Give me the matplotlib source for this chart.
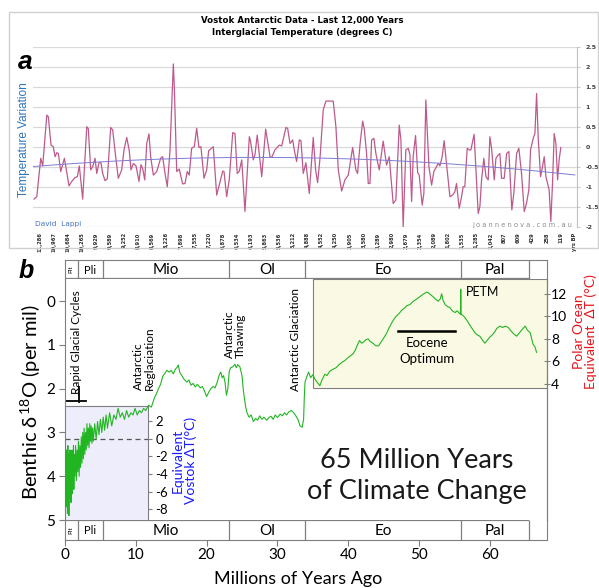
import numpy as np
import matplotlib
matplotlib.use('Agg')
import matplotlib.pyplot as plt
from matplotlib.patches import Rectangle

plt.rcParams['font.family'] = ['Lato', 'DejaVu Sans']
plt.rcParams['mathtext.fontset'] = 'custom'
plt.rcParams['mathtext.rm'] = 'Lato'
plt.rcParams['mathtext.it'] = 'Lato'
plt.rcParams['axes.unicode_minus'] = False

# ---------------- panel a : Vostok, last 12,000 years ----------------
age_labels = ['11,286', '10,967', '10,684', '10,265', '9,929', '9,589', '9,252', '8,910',
              '8,569', '8,226', '7,898', '7,555', '7,220', '6,878', '6,534', '6,193',
              '5,863', '5,536', '5,212', '4,888', '4,552', '4,250', '3,905', '3,580',
              '3,289', '2,980', '2,679', '2,354', '2,089', '1,802', '1,535', '1,285',
              '1,042', '807', '609', '429', '258', '119', 'yrs BP']

# sample position on the category axis (1 unit = one labelled sample)
vostok_pos = [-0.43, -0.23, 0.05, 0.19, 0.48, 0.59, 0.78, 0.94, 1.07, 1.19, 1.30, 1.47,
              1.73, 2.06, 2.25, 2.49, 2.65, 2.79, 3.03, 3.32, 3.43, 3.60, 3.74, 3.91,
              4.03, 4.19, 4.33, 4.45, 4.62, 4.78, 5.02, 5.16, 5.40, 5.56, 5.80, 5.97,
              6.16, 6.34, 6.46, 6.63, 6.82, 7.03, 7.17, 7.29, 7.44, 7.58, 7.74, 7.86,
              8.05, 8.29, 8.57, 8.71, 8.88, 9.04, 9.23, 9.47, 9.54, 9.71, 9.89, 10.13,
              10.30, 10.46, 10.60, 10.77, 10.96, 11.13, 11.29, 11.43, 11.65, 11.84, 11.98, 12.31,
              12.55, 12.98, 13.07, 13.26, 13.44, 13.69, 13.85, 14.01, 14.15, 14.33, 14.56, 14.87,
              14.96, 15.15, 15.27, 15.43, 15.75, 16.03, 16.34, 16.46, 16.69, 17.00, 17.17, 17.47,
              17.59, 17.76, 17.95, 18.06, 18.23, 18.42, 18.54, 18.70, 18.89, 19.13, 19.41, 19.58,
              19.72, 19.89, 20.12, 20.31, 20.83, 21.02, 21.19, 21.43, 21.66, 21.90, 22.21, 22.44,
              22.56, 22.73, 22.92, 23.03, 23.20, 23.32, 23.44, 23.56, 23.72, 23.86, 24.10, 24.38,
              24.62, 24.81, 25.09, 25.28, 25.52, 25.64, 25.80, 25.99, 26.16, 26.28, 26.40, 26.51,
              26.68, 26.83, 26.94, 27.15, 27.27, 27.41, 27.63, 27.82, 27.98, 28.29, 28.41, 28.57,
              28.71, 28.84, 29.12, 29.31, 29.47, 29.59, 29.78, 29.95, 30.06, 30.18, 30.35, 30.49,
              30.61, 30.84, 31.13, 31.25, 31.37, 31.53, 31.68, 31.84, 31.96, 32.08, 32.27, 32.39,
              32.55, 32.67, 32.79, 32.98, 33.15, 33.31, 33.52, 33.66, 33.86, 34.02, 34.21, 34.40,
              34.56, 34.73, 34.85, 35.04, 35.16, 35.28, 35.39, 35.56, 35.70, 35.82, 35.94, 36.17,
              36.29, 36.41, 36.53, 36.65, 36.77, 36.88, 37.00]
vostok_temp = [-1.31, -1.25, -0.29, -0.48, 0.79, 0.75, 0.04, 0.00, -0.25, -0.15, -0.17, -0.62,
               -0.29, -0.98, -0.87, -0.77, -0.75, -0.48, -1.31, 0.50, 0.45, -0.58, -0.50, -0.29,
               -0.67, -0.40, -0.40, -0.67, -0.85, -0.80, 0.48, 0.42, -0.33, -0.79, -0.58, -0.07,
               0.23, -0.10, -0.58, -0.42, -0.48, -0.87, -0.45, -0.54, -0.83, 0.08, 0.32, -0.25,
               -0.71, -0.62, -0.29, -0.25, -0.67, -1.00, -0.12, 2.07, 1.50, -0.62, -0.56, -0.93,
               -0.92, -0.62, -0.71, -0.04, 0.00, 0.46, -0.02, 0.00, -0.79, -0.58, -0.10, 0.00,
               -1.21, -0.61, -0.62, -1.25, -0.83, 0.35, 0.33, -0.67, -0.62, -0.33, -1.62, 0.25,
               0.13, -0.33, -0.20, 0.29, -0.75, 0.44, -0.25, -0.27, -0.08, 0.04, 0.02, 0.48,
               0.46, 0.08, 0.17, -0.08, -0.37, 0.17, 0.15, -0.67, -0.40, -1.17, 0.23, -0.58,
               -0.90, -0.29, 0.92, 1.14, 1.14, 0.50, -0.58, -1.11, -0.83, -0.71, -0.02, -0.58,
               -0.67, 0.04, 0.64, 0.46, -0.17, -0.92, -0.92, 0.17, 0.21, -0.17, -0.58, 0.14,
               -0.46, -0.25, -1.42, -1.33, 0.54, 0.17, -2.00, -0.08, -0.04, -0.20, -1.37, -0.25,
               0.28, -0.65, -0.71, -1.46, -1.17, 1.17, -0.50, -0.96, -0.62, -0.42, -0.48, -0.25,
               0.15, -0.29, -1.25, -1.21, -1.13, -0.92, -1.54, -1.25, -1.00, -1.00, -0.04, -0.08,
               -0.08, 0.31, -1.67, -1.50, -0.83, -0.29, -0.75, -0.83, 0.25, -0.04, -0.83, -0.29,
               -0.21, -0.17, -0.79, -0.79, -0.17, -0.12, -1.58, -1.17, -0.17, -0.04, -0.67, -1.62,
               -1.42, -1.08, -0.08, 0.21, 0.33, 1.33, 0.25, -0.75, -0.50, -0.25, -0.75, -1.08,
               -1.87, -0.92, 0.33, 0.08, -0.83, -0.33, -0.02]

# readings of the blue polynomial trend line
trend_pos = [-0.5, 7.8, 18.5, 29.1, 38.0]
trend_val = [-0.50, -0.31, -0.29, -0.42, -0.71]

# ---------------- panel b : 65 Myr benthic d18O ----------------
d18o_age = [0.00, 0.05, 0.10, 0.15, 0.20, 0.25, 0.30, 0.35, 0.40, 0.45, 0.50, 0.55,
            0.60, 0.65, 0.70, 0.75, 0.80, 0.85, 0.90, 0.95, 1.00, 1.05, 1.10, 1.15,
            1.20, 1.25, 1.30, 1.40, 1.50, 1.60, 1.70, 1.80, 1.90, 2.00, 2.10, 2.20,
            2.30, 2.40, 2.50, 2.60, 2.70, 2.80, 2.90, 3.00, 3.10, 3.20, 3.30, 3.40,
            3.50, 3.60, 3.70, 3.80, 3.90, 4.00, 4.20, 4.40, 4.60, 4.80, 5.00, 5.20,
            5.40, 5.60, 5.80, 6.00, 6.30, 6.60, 6.90, 7.20, 7.50, 7.80, 8.10, 8.40,
            8.70, 9.00, 9.30, 9.60, 9.90, 10.20, 10.50, 10.80, 11.10, 11.40, 11.80, 12.20,
            12.60, 12.90, 13.20, 13.50, 13.80, 14.10, 14.40, 14.70, 15.00, 15.30, 15.60, 15.90,
            16.00, 16.20, 16.50, 16.80, 17.20, 17.50, 17.80, 18.10, 18.40, 18.70, 19.10, 19.40,
            19.70, 20.00, 20.30, 20.60, 20.90, 21.20, 21.50, 21.80, 22.00, 22.20, 22.40, 22.60,
            22.80, 23.00, 23.20, 23.40, 23.70, 24.00, 24.20, 24.40, 24.70, 25.00, 25.20, 25.50,
            25.70, 26.00, 26.30, 26.60, 26.90, 27.20, 27.50, 27.80, 28.10, 28.50, 28.80, 29.10,
            29.40, 29.70, 30.00, 30.40, 30.70, 31.00, 31.30, 31.60, 32.00, 32.30, 32.60, 32.90,
            33.20, 33.50, 33.70, 33.80, 33.90, 34.10, 34.40, 34.70, 35.00, 35.30, 35.60, 36.00,
            36.30, 36.70, 37.00, 37.40, 37.90, 38.30, 38.70, 39.10, 39.50, 39.90, 40.30, 40.70,
            41.00, 41.30, 41.60, 41.90, 42.20, 42.50, 42.80, 43.10, 43.50, 43.90, 44.30, 44.70,
            45.10, 45.40, 45.80, 46.20, 46.50, 46.80, 47.20, 47.60, 48.00, 48.30, 48.70, 49.20,
            49.60, 50.10, 50.50, 50.80, 51.10, 51.40, 51.70, 52.00, 52.30, 52.70, 53.00, 53.20,
            53.40, 53.70, 54.00, 54.40, 54.70, 55.10, 55.40, 55.60, 55.85, 55.90, 55.95, 56.30,
            56.70, 57.00, 57.40, 57.90, 58.30, 58.60, 59.00, 59.30, 59.70, 60.00, 60.30, 60.70,
            61.00, 61.40, 61.80, 62.20, 62.60, 63.00, 63.40, 63.80, 64.20, 64.60, 65.00, 65.30,
            65.70, 66.10, 66.40, 66.60]
d18o = [3.30, 4.50, 3.50, 4.70, 3.40, 4.60, 3.60, 4.85, 3.30, 4.40, 3.50, 4.90,
        3.70, 4.50, 3.40, 4.30, 3.50, 4.60, 3.60, 4.20, 3.40, 4.40, 3.50, 4.10,
        3.30, 4.30, 3.50, 4.00, 3.30, 4.10, 3.40, 3.90, 3.20, 4.00, 3.30, 3.80,
        3.10, 3.70, 3.00, 3.60, 2.90, 3.50, 3.00, 3.40, 2.80, 3.30, 2.90, 3.35,
        2.80, 3.20, 2.85, 3.25, 2.90, 3.20, 2.80, 3.15, 2.75, 3.05, 2.70, 3.00,
        2.65, 2.95, 2.60, 2.90, 2.55, 2.85, 2.60, 2.70, 2.45, 2.65, 2.55, 2.70,
        2.50, 2.65, 2.55, 2.60, 2.45, 2.60, 2.50, 2.55, 2.45, 2.50, 2.38, 2.42,
        2.22, 2.12, 2.00, 1.90, 1.72, 1.65, 1.58, 1.62, 1.58, 1.66, 1.55, 1.50,
        1.46, 1.62, 1.70, 1.78, 1.85, 1.80, 1.92, 1.88, 1.96, 1.90, 1.98, 1.95,
        2.05, 2.18, 2.08, 2.00, 1.95, 1.98, 1.85, 1.68, 1.62, 1.75, 1.70, 1.85,
        2.15, 2.00, 1.60, 1.52, 1.50, 1.44, 1.52, 1.45, 1.50, 1.70, 2.05, 2.40,
        2.55, 2.65, 2.60, 2.75, 2.68, 2.72, 2.62, 2.70, 2.65, 2.72, 2.66, 2.63,
        2.70, 2.60, 2.66, 2.58, 2.62, 2.55, 2.60, 2.53, 2.50, 2.55, 2.62, 2.70,
        2.85, 2.88, 2.70, 2.20, 1.85, 1.75, 1.62, 1.75, 1.68, 1.78, 1.85, 1.93,
        1.80, 1.67, 1.70, 1.60, 1.55, 1.52, 1.45, 1.40, 1.36, 1.30, 1.25, 1.20,
        1.12, 1.00, 0.90, 0.96, 0.93, 0.88, 0.86, 0.92, 0.96, 1.02, 1.02, 0.92,
        0.82, 0.74, 0.60, 0.48, 0.40, 0.34, 0.28, 0.20, 0.15, 0.10, 0.08, 0.00,
        -0.04, -0.10, -0.15, -0.18, -0.21, -0.18, -0.14, -0.10, -0.05, 0.00, -0.05, -0.17,
        -0.02, 0.08, 0.12, 0.15, 0.22, 0.26, 0.22, 0.26, 0.30, -0.27, 0.30, 0.34,
        0.42, 0.50, 0.60, 0.72, 0.78, 0.80, 0.90, 0.96, 0.88, 0.82, 0.78, 0.70,
        0.62, 0.57, 0.60, 0.57, 0.60, 0.68, 0.75, 0.80, 0.72, 0.64, 0.57, 0.66,
        0.72, 0.98, 1.05, 1.17]

epoch_names = ['Plt', 'Pli', 'Mio', 'Ol', 'Eo', 'Pal']
epoch_edges = [0, 1.8, 5.4, 23.1, 33.9, 55.9, 65.6]

# calibration of the temperature scales against d18O
polar_d18o, polar_temp = [-0.17, 1.89], [12, 4]
vostok_d18o, vostok_temp_ref = [3.14, 4.76], [0, -8]


def d_to_polar(d):
    s = (polar_temp[1] - polar_temp[0]) / (polar_d18o[1] - polar_d18o[0])
    return polar_temp[0] + (np.asarray(d) - polar_d18o[0]) * s


def polar_to_d(t):
    s = (polar_temp[1] - polar_temp[0]) / (polar_d18o[1] - polar_d18o[0])
    return polar_d18o[0] + (np.asarray(t) - polar_temp[0]) / s


def d_to_vostok(d):
    s = (vostok_temp_ref[1] - vostok_temp_ref[0]) / (vostok_d18o[1] - vostok_d18o[0])
    return vostok_temp_ref[0] + (d - vostok_d18o[0]) * s


W, H = 599, 588
fig = plt.figure(figsize=(W / 100, H / 100), dpi=100)


def fx(x):
    return x / W


def fy(y):
    return 1 - y / H


# ======================= panel a =======================
fig.patches.append(Rectangle((fx(9), fy(248)), fx(598) - fx(9), fy(12) - fy(248),
                             transform=fig.transFigure, fill=False,
                             edgecolor='#d0d0d0', lw=1))

ax_a = fig.add_axes([fx(33), fy(226.7), fx(577) - fx(33), fy(46.7) - fy(226.7)])
ax_a.set_xlim(-0.5, 38.15)
ax_a.set_ylim(-2, 2.5)
yt = np.arange(-2, 2.51, 0.5)
ax_a.set_yticks(yt)
ax_a.set_yticklabels(['%g' % v for v in yt], fontweight='bold', family='DejaVu Sans')
ax_a.yaxis.tick_right()
ax_a.grid(axis='y', color='#d9d9d9', lw=0.9)
ax_a.set_axisbelow(True)
for s in ['left', 'top', 'bottom']:
    ax_a.spines[s].set_visible(False)
ax_a.spines['right'].set_color('#c0c0c0')
ax_a.tick_params(axis='y', length=2, width=0.6, color='#c0c0c0', labelsize=4.5,
                 pad=4, labelcolor='#404040')
ax_a.set_xticks(range(len(age_labels)))
ax_a.set_xticklabels(age_labels, rotation=90, fontweight='bold', family='DejaVu Sans')
ax_a.tick_params(axis='x', length=0, labelsize=3.7, pad=4, labelcolor='#303030')

ax_a.plot(vostok_pos, vostok_temp, color='#bd5a8c', lw=0.9)
coef = np.polyfit(trend_pos, trend_val, 3)
tx = np.linspace(trend_pos[0], trend_pos[-1], 100)
ax_a.plot(tx, np.polyval(coef, tx), color='#7c7cd4', lw=0.7)

fig.text(fx(302), fy(21), 'Vostok Antarctic Data - Last 12,000 Years', ha='center',
         va='center', fontsize=6.2, fontweight='bold', family='DejaVu Sans')
fig.text(fx(302), fy(32.3), 'Interglacial Temperature (degrees C)', ha='center',
         va='center', fontsize=6.2, fontweight='bold', family='DejaVu Sans')
fig.text(fx(24), fy(140), 'Temperature Variation', rotation=90, ha='center', va='center',
         fontsize=8.5, color='#2e75b6', family=['Liberation Sans Narrow', 'Liberation Sans'])
fig.text(fx(25), fy(62), 'a', ha='center', va='center', fontsize=19, fontweight='bold',
         style='italic', family='Liberation Sans')
fig.text(fx(35), fy(224), 'David  Lappi', ha='left', va='center', fontsize=5.3,
         color='#4472c4', family='DejaVu Sans')
fig.text(fx(572), fy(225), ' '.join('joannenova.com.au'), ha='right', va='center',
         fontsize=4.8, color='#8c8c8c', family='DejaVu Sans')

# ======================= panel b =======================
xmax = 68.08
ymin_d, ymax_d = -0.5, 5.0
ax = fig.add_axes([fx(65), fy(520), fx(547) - fx(65), fy(279.3) - fy(520)])
ax.set_xlim(0, xmax)
ax.set_ylim(ymax_d, ymin_d)
ax.set_zorder(3)
ax.patch.set_visible(False)
frame_col = '#7f7f7f'
for s in ['top', 'bottom']:
    ax.spines[s].set_visible(False)
for s in ['left', 'right']:
    ax.spines[s].set_color(frame_col)
ax.set_xticks([])
ax.set_yticks(range(0, 6))
ax.tick_params(axis='y', direction='out', length=4, color=frame_col, labelsize=11, pad=3)

# yellow box (polar ocean scale)
eo_box_left, eo_box_bottom = 35.0, 1.98
ax.add_patch(Rectangle((eo_box_left, ymin_d), xmax - eo_box_left, eo_box_bottom - ymin_d,
                       facecolor='#fafae4', edgecolor=frame_col, lw=0.8, zorder=0))

# blue box (Vostok scale)
box_t, box_d = 11.76, 2.4
p = ax.get_position()
ax_v = fig.add_axes([p.x0, p.y0, p.width * box_t / xmax,
                     p.height * (ymax_d - box_d) / (ymax_d - ymin_d)])
ax_v.set_zorder(2)
ax_v.set_facecolor('#ededfb')
ax_v.set_xlim(0, 1)
ax_v.set_ylim(d_to_vostok(ymax_d), d_to_vostok(box_d))
for s in ['left', 'bottom']:
    ax_v.spines[s].set_visible(False)
for s in ['top', 'right']:
    ax_v.spines[s].set_color(frame_col)
ax_v.set_xticks([])
ax_v.yaxis.tick_right()
ax_v.set_yticks(range(-8, 3, 2))
ax_v.tick_params(axis='y', direction='out', length=3, color=frame_col, labelsize=9.5, pad=2)
ax_v.axhline(0, color='#555555', lw=0.9, ls=(0, (4, 3)))

# the d18O curve
ax.plot(d18o_age, d18o, color='#22b522', lw=0.8, zorder=3)

# polar ocean scale on the right
sec = ax.secondary_yaxis('right', functions=(d_to_polar, polar_to_d))
sec.set_yticks([4, 6, 8, 10, 12])
sec.spines['right'].set_color(frame_col)
sec.tick_params(direction='inout', length=4, color=frame_col, labelsize=10, pad=1)

# epoch bars
for pos_y0, pos_y1, top in [(260, 279.3, True), (520, 540, False)]:
    eb = fig.add_axes([fx(65), fy(pos_y1), fx(547) - fx(65), fy(pos_y0) - fy(pos_y1)])
    eb.set_xlim(0, xmax)
    eb.set_ylim(0, 1)
    for s in eb.spines.values():
        s.set_color(frame_col)
    eb.spines['bottom' if top else 'top'].set_visible(False)
    edge_y = 0 if top else 1
    eb.hlines(edge_y, epoch_edges[0], epoch_edges[-1], color=frame_col, lw=1.6)
    eb.vlines(epoch_edges[1:], 0, 1, color=frame_col, lw=0.9)
    eb.set_yticks([])
    for name, a0, a1 in zip(epoch_names, epoch_edges[:-1], epoch_edges[1:]):
        if name == 'Plt':
            eb.text((a0 + a1) / 2, 0.5, name, rotation=90, ha='center', va='center', fontsize=4.5)
        elif name == 'Pli':
            eb.text((a0 + a1) / 2, 0.47, name, ha='center', va='center', fontsize=8)
        else:
            eb.text((a0 + a1) / 2, 0.47, name, ha='center', va='center', fontsize=11)
    if top:
        eb.set_xticks([])
    else:
        eb.set_xticks(range(0, 61, 10))
        eb.tick_params(axis='x', direction='out', length=4, color=frame_col, labelsize=11, pad=2)

# annotations
ax.text(1.65, 2.12, 'Rapid Glacial Cycles', rotation=90, ha='center', va='bottom', fontsize=8.5)
ax.plot([0, 3.0], [2.27, 2.27], color='black', lw=1.3)
ax.plot([2.0, 2.0], [1.95, 2.31], color='black', lw=1.3)
ax.text(11.1, 2.02, 'Antarctic\nReglaciation', rotation=90, ha='center', va='bottom',
        multialignment='left', fontsize=8.5, linespacing=1.0)
ax.text(24.0, 1.29, 'Antarctic\nThawing', rotation=90, ha='center', va='bottom',
        multialignment='left', fontsize=8.5, linespacing=1.0)
ax.text(32.5, 2.05, 'Antarctic Glaciation', rotation=90, ha='center', va='bottom', fontsize=8.5)
ax.text(56.6, -0.22, 'PETM', ha='left', va='center', fontsize=9)
ax.plot([47.0, 55.1], [0.69, 0.69], color='black', lw=1.8)
ax.text(51.1, 0.96, 'Eocene', ha='center', va='center', fontsize=9.5)
ax.text(51.1, 1.31, 'Optimum', ha='center', va='center', fontsize=9.5)

fig.text(fx(417), fy(468), '65 Million Years', ha='center', va='baseline', fontsize=19.5,
         color='#1a1a1a')
fig.text(fx(417), fy(499), 'of Climate Change', ha='center', va='baseline', fontsize=19.5,
         color='#1a1a1a')

ax.text(16.9, 3.64, 'Equivalent\nVostok ΔT(°C)', rotation=90, ha='center', va='center',
        multialignment='center', fontsize=10, color='#1a1aff', linespacing=1.05)
ax.text(73.4, 0.69, 'Polar Ocean\nEquivalent  ΔT (°C)', rotation=90, ha='center', va='center',
        multialignment='center', fontsize=10, color='#e8141a', linespacing=0.95,
        clip_on=False)

fig.text(fx(31), fy(402), 'Benthic $\\delta^{18}$O (per mil)', rotation=90, ha='center',
         va='center', fontsize=14.5)
fig.text(fx(298), fy(579), 'Millions of Years Ago', ha='center', va='center', fontsize=13)
fig.text(fx(26), fy(271), 'b', ha='center', va='center', fontsize=18, fontweight='bold',
         style='italic', family='Liberation Sans')

fig.savefig('out.png', dpi=100)
